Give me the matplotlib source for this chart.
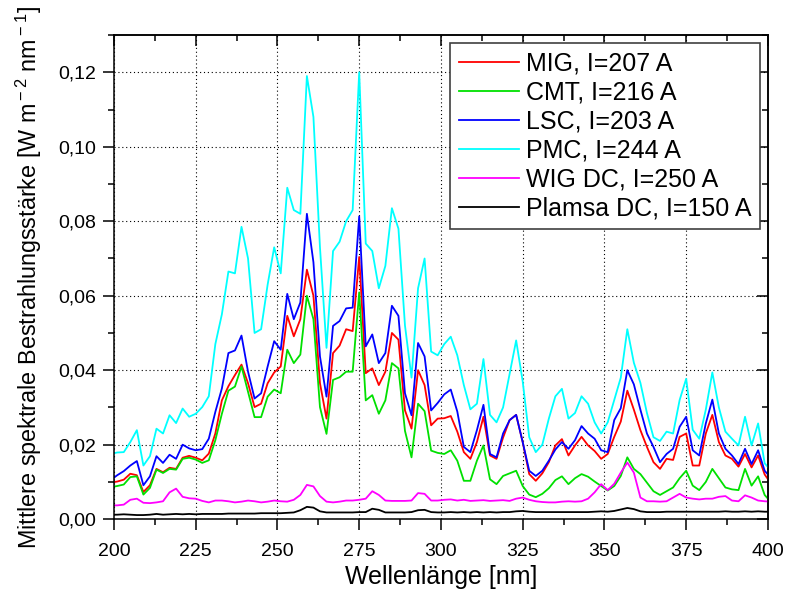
import numpy as np
import matplotlib
matplotlib.use('Agg')
import matplotlib.pyplot as plt
from matplotlib.ticker import MultipleLocator, FuncFormatter

plt.rcParams['font.family'] = ['Liberation Sans', 'DejaVu Sans']
plt.rcParams['mathtext.fontset'] = 'custom'
plt.rcParams['mathtext.rm'] = 'Liberation Sans'

# Wellenlaengen (nm), Raster 2 nm
wellenlaenge = np.arange(199, 402, 2)

# Spektrale Bestrahlungsstaerke [W m-2 nm-1]
mig = [0.0098, 0.0101, 0.0106, 0.0122, 0.0118, 0.0073, 0.0091, 0.0135, 0.0126, 0.0138,
       0.0135, 0.0165, 0.0170, 0.0165, 0.0158, 0.0176, 0.0230, 0.0319, 0.0357, 0.0387,
       0.0415, 0.0365, 0.0301, 0.0310, 0.0365, 0.0394, 0.0410, 0.0546, 0.0491, 0.0537,
       0.0670, 0.0600, 0.0365, 0.0270, 0.0446, 0.0466, 0.0510, 0.0505, 0.0704, 0.0392,
       0.0405, 0.0360, 0.0396, 0.0500, 0.0482, 0.0292, 0.0243, 0.0400, 0.0360, 0.0252,
       0.0270, 0.0271, 0.0277, 0.0235, 0.0180, 0.0162, 0.0207, 0.0275, 0.0171, 0.0162,
       0.0219, 0.0266, 0.0280, 0.0207, 0.0121, 0.0103, 0.0123, 0.0153, 0.0198, 0.0215,
       0.0171, 0.0198, 0.0221, 0.0198, 0.0183, 0.0162, 0.0175, 0.0221, 0.0262, 0.0345,
       0.0294, 0.0239, 0.0194, 0.0153, 0.0135, 0.0162, 0.0159, 0.0221, 0.0230, 0.0144,
       0.0144, 0.0230, 0.0280, 0.0207, 0.0171, 0.0162, 0.0141, 0.0175, 0.0139, 0.0171,
       0.0120, 0.0095]

cmt = [0.0086, 0.0089, 0.0093, 0.0113, 0.0115, 0.0066, 0.0084, 0.0133, 0.0124, 0.0135,
       0.0133, 0.0162, 0.0165, 0.0160, 0.0151, 0.0158, 0.0212, 0.0283, 0.0345, 0.0356,
       0.0410, 0.0342, 0.0274, 0.0274, 0.0329, 0.0348, 0.0338, 0.0455, 0.0419, 0.0442,
       0.0600, 0.0537, 0.0301, 0.0229, 0.0374, 0.0381, 0.0396, 0.0396, 0.0609, 0.0319,
       0.0333, 0.0283, 0.0319, 0.0419, 0.0405, 0.0237, 0.0166, 0.0310, 0.0290, 0.0184,
       0.0178, 0.0175, 0.0185, 0.0157, 0.0103, 0.0103, 0.0157, 0.0198, 0.0107, 0.0094,
       0.0116, 0.0123, 0.0130, 0.0089, 0.0066, 0.0059, 0.0068, 0.0083, 0.0105, 0.0115,
       0.0094, 0.0110, 0.0121, 0.0114, 0.0101, 0.0089, 0.0077, 0.0089, 0.0116, 0.0166,
       0.0135, 0.0121, 0.0098, 0.0075, 0.0065, 0.0075, 0.0085, 0.0110, 0.0130, 0.0090,
       0.0078, 0.0100, 0.0135, 0.0110, 0.0085, 0.0080, 0.0078, 0.0135, 0.0090, 0.0115,
       0.0065, 0.0045]

lsc = [0.0105, 0.0118, 0.0129, 0.0144, 0.0156, 0.0091, 0.0115, 0.0169, 0.0151, 0.0173,
       0.0162, 0.0200, 0.0190, 0.0185, 0.0188, 0.0216, 0.0288, 0.0351, 0.0446, 0.0453,
       0.0493, 0.0396, 0.0324, 0.0338, 0.0410, 0.0478, 0.0455, 0.0605, 0.0537, 0.0582,
       0.0820, 0.0690, 0.0437, 0.0329, 0.0519, 0.0532, 0.0566, 0.0568, 0.0813, 0.0464,
       0.0496, 0.0419, 0.0446, 0.0573, 0.0546, 0.0338, 0.0279, 0.0473, 0.0437, 0.0292,
       0.0312, 0.0335, 0.0348, 0.0289, 0.0194, 0.0180, 0.0239, 0.0307, 0.0175, 0.0166,
       0.0230, 0.0266, 0.0280, 0.0207, 0.0130, 0.0116, 0.0130, 0.0157, 0.0187, 0.0207,
       0.0189, 0.0212, 0.0250, 0.0230, 0.0216, 0.0185, 0.0180, 0.0266, 0.0298, 0.0400,
       0.0362, 0.0294, 0.0230, 0.0194, 0.0153, 0.0175, 0.0189, 0.0248, 0.0275, 0.0185,
       0.0171, 0.0257, 0.0321, 0.0230, 0.0189, 0.0171, 0.0148, 0.0189, 0.0148, 0.0185,
       0.0130, 0.0110]

pmc = [0.0175, 0.0179, 0.0180, 0.0207, 0.0239, 0.0144, 0.0169, 0.0243, 0.0230, 0.0279,
       0.0258, 0.0297, 0.0275, 0.0283, 0.0301, 0.0330, 0.0470, 0.0550, 0.0665, 0.0660,
       0.0785, 0.0700, 0.0500, 0.0510, 0.0630, 0.0730, 0.0660, 0.0890, 0.0830, 0.0820,
       0.1190, 0.1080, 0.0730, 0.0460, 0.0720, 0.0745, 0.0800, 0.0830, 0.1200, 0.0740,
       0.0720, 0.0620, 0.0680, 0.0835, 0.0780, 0.0520, 0.0380, 0.0620, 0.0700, 0.0450,
       0.0440, 0.0470, 0.0490, 0.0440, 0.0360, 0.0295, 0.0310, 0.0430, 0.0280, 0.0260,
       0.0300, 0.0390, 0.0480, 0.0370, 0.0220, 0.0180, 0.0200, 0.0270, 0.0330, 0.0350,
       0.0270, 0.0285, 0.0330, 0.0310, 0.0260, 0.0230, 0.0260, 0.0320, 0.0380, 0.0510,
       0.0420, 0.0366, 0.0285, 0.0220, 0.0210, 0.0235, 0.0230, 0.0320, 0.0377, 0.0240,
       0.0216, 0.0294, 0.0394, 0.0300, 0.0235, 0.0216, 0.0198, 0.0275, 0.0198, 0.0257,
       0.0150, 0.0130]

wig_dc = [0.0037, 0.0037, 0.0039, 0.0052, 0.0055, 0.0044, 0.0043, 0.0045, 0.0048, 0.0072,
          0.0082, 0.0060, 0.0056, 0.0055, 0.0049, 0.0045, 0.0050, 0.0050, 0.0048, 0.0045,
          0.0047, 0.0050, 0.0048, 0.0045, 0.0047, 0.0050, 0.0048, 0.0047, 0.0052, 0.0065,
          0.0092, 0.0088, 0.0062, 0.0047, 0.0045, 0.0047, 0.0050, 0.0050, 0.0052, 0.0055,
          0.0075, 0.0065, 0.0050, 0.0049, 0.0049, 0.0049, 0.0050, 0.0070, 0.0068, 0.0050,
          0.0050, 0.0052, 0.0053, 0.0050, 0.0052, 0.0049, 0.0050, 0.0051, 0.0049, 0.0050,
          0.0051, 0.0049, 0.0055, 0.0058, 0.0052, 0.0048, 0.0046, 0.0045, 0.0045, 0.0047,
          0.0048, 0.0047, 0.0048, 0.0055, 0.0072, 0.0094, 0.0078, 0.0095, 0.0125, 0.0152,
          0.0125, 0.0058, 0.0048, 0.0048, 0.0047, 0.0048, 0.0058, 0.0068, 0.0058, 0.0055,
          0.0053, 0.0055, 0.0055, 0.0060, 0.0062, 0.0050, 0.0048, 0.0064, 0.0058, 0.0050,
          0.0048, 0.0047]

plasma_dc = [0.0012, 0.0012, 0.0013, 0.0012, 0.0011, 0.0011, 0.0012, 0.0014, 0.0012, 0.0013,
             0.0014, 0.0013, 0.0014, 0.0013, 0.0014, 0.0014, 0.0014, 0.0014, 0.0015, 0.0015,
             0.0015, 0.0015, 0.0015, 0.0016, 0.0016, 0.0016, 0.0016, 0.0017, 0.0018, 0.0024,
             0.0033, 0.0031, 0.0021, 0.0018, 0.0018, 0.0018, 0.0018, 0.0018, 0.0019, 0.0019,
             0.0028, 0.0025, 0.0018, 0.0018, 0.0018, 0.0018, 0.0019, 0.0024, 0.0025, 0.0019,
             0.0018, 0.0018, 0.0019, 0.0018, 0.0019, 0.0018, 0.0019, 0.0018, 0.0019, 0.0018,
             0.0019, 0.0019, 0.0021, 0.0022, 0.0020, 0.0019, 0.0019, 0.0019, 0.0019, 0.0019,
             0.0019, 0.0019, 0.0019, 0.0019, 0.0020, 0.0021, 0.0020, 0.0022, 0.0026, 0.0030,
             0.0027, 0.0021, 0.0019, 0.0019, 0.0019, 0.0020, 0.0020, 0.0020, 0.0020, 0.0020,
             0.0020, 0.0020, 0.0020, 0.0020, 0.0021, 0.0020, 0.0020, 0.0021, 0.0020, 0.0021,
             0.0020, 0.0020]

labels = ['MIG, I=207 A', 'CMT, I=216 A', 'LSC, I=203 A',
          'PMC, I=244 A', 'WIG DC, I=250 A', 'Plamsa DC, I=150 A']
farben = ['#ff0000', '#00e000', '#0000ff', '#00ffff', '#ff00ff', '#000000']
reihen = [mig, cmt, lsc, pmc, wig_dc, plasma_dc]

fig = plt.figure(figsize=(7.86, 5.94), dpi=100)
ax = fig.add_axes((0.145, 0.126, 0.832, 0.815))

for werte, farbe, name in zip(reihen, farben, labels):
    ax.plot(wellenlaenge, werte, color=farbe, linewidth=1.3, label=name)

ax.set_xlim(200, 400)
ax.set_ylim(0, 0.13)
ax.xaxis.set_major_locator(MultipleLocator(25))
ax.xaxis.set_minor_locator(MultipleLocator(12.5))
ax.yaxis.set_major_locator(MultipleLocator(0.02))
ax.yaxis.set_minor_locator(MultipleLocator(0.01))
ax.yaxis.set_major_formatter(FuncFormatter(lambda v, p: f'{v:.2f}'.replace('.', ',')))

# Ticks: aussen unten/links, innen oben/rechts
ax.tick_params(which='both', direction='out', width=1.1, labelsize=14,
               top=False, right=False)
ax.tick_params(which='major', length=8)
ax.tick_params(which='minor', length=4.5)
ax.tick_params(axis='x', which='major', pad=9)
ax.tick_params(axis='y', which='major', pad=5)
sek_x = ax.secondary_xaxis('top')
sek_x.xaxis.set_major_locator(MultipleLocator(25))
sek_x.xaxis.set_minor_locator(MultipleLocator(12.5))
sek_x.tick_params(which='both', direction='in', width=1.1, labeltop=False)
sek_x.tick_params(which='major', length=8)
sek_x.tick_params(which='minor', length=4.5)
sek_y = ax.secondary_yaxis('right')
sek_y.yaxis.set_major_locator(MultipleLocator(0.02))
sek_y.yaxis.set_minor_locator(MultipleLocator(0.01))
sek_y.tick_params(which='both', direction='in', width=1.1, labelright=False)
sek_y.tick_params(which='major', length=8)
sek_y.tick_params(which='minor', length=4.5)

for sp in ax.spines.values():
    sp.set_linewidth(1.1)
sek_x.spines['top'].set_linewidth(1.1)
sek_y.spines['right'].set_linewidth(1.1)

ax.grid(True, which='major', color='black', linestyle=(0, (1, 2.5)), linewidth=0.8)
ax.set_axisbelow(True)

ax.set_xlabel('Wellenlänge [nm]', fontsize=18, labelpad=4)
ax.set_ylabel(r'Mittlere spektrale Bestrahlungsstärke [W m$^{\rm -2}$ nm$^{\rm -1}$]',
              fontsize=16.8, labelpad=10)

leg = ax.legend(loc='upper right', fontsize=18, fancybox=False, framealpha=1,
                edgecolor='#404040', handlelength=2.4, handletextpad=0.3,
                labelspacing=0.2, borderpad=0.35, borderaxespad=0.3)
leg.get_frame().set_linewidth(1.2)

fig.savefig('out.png', dpi=100)
